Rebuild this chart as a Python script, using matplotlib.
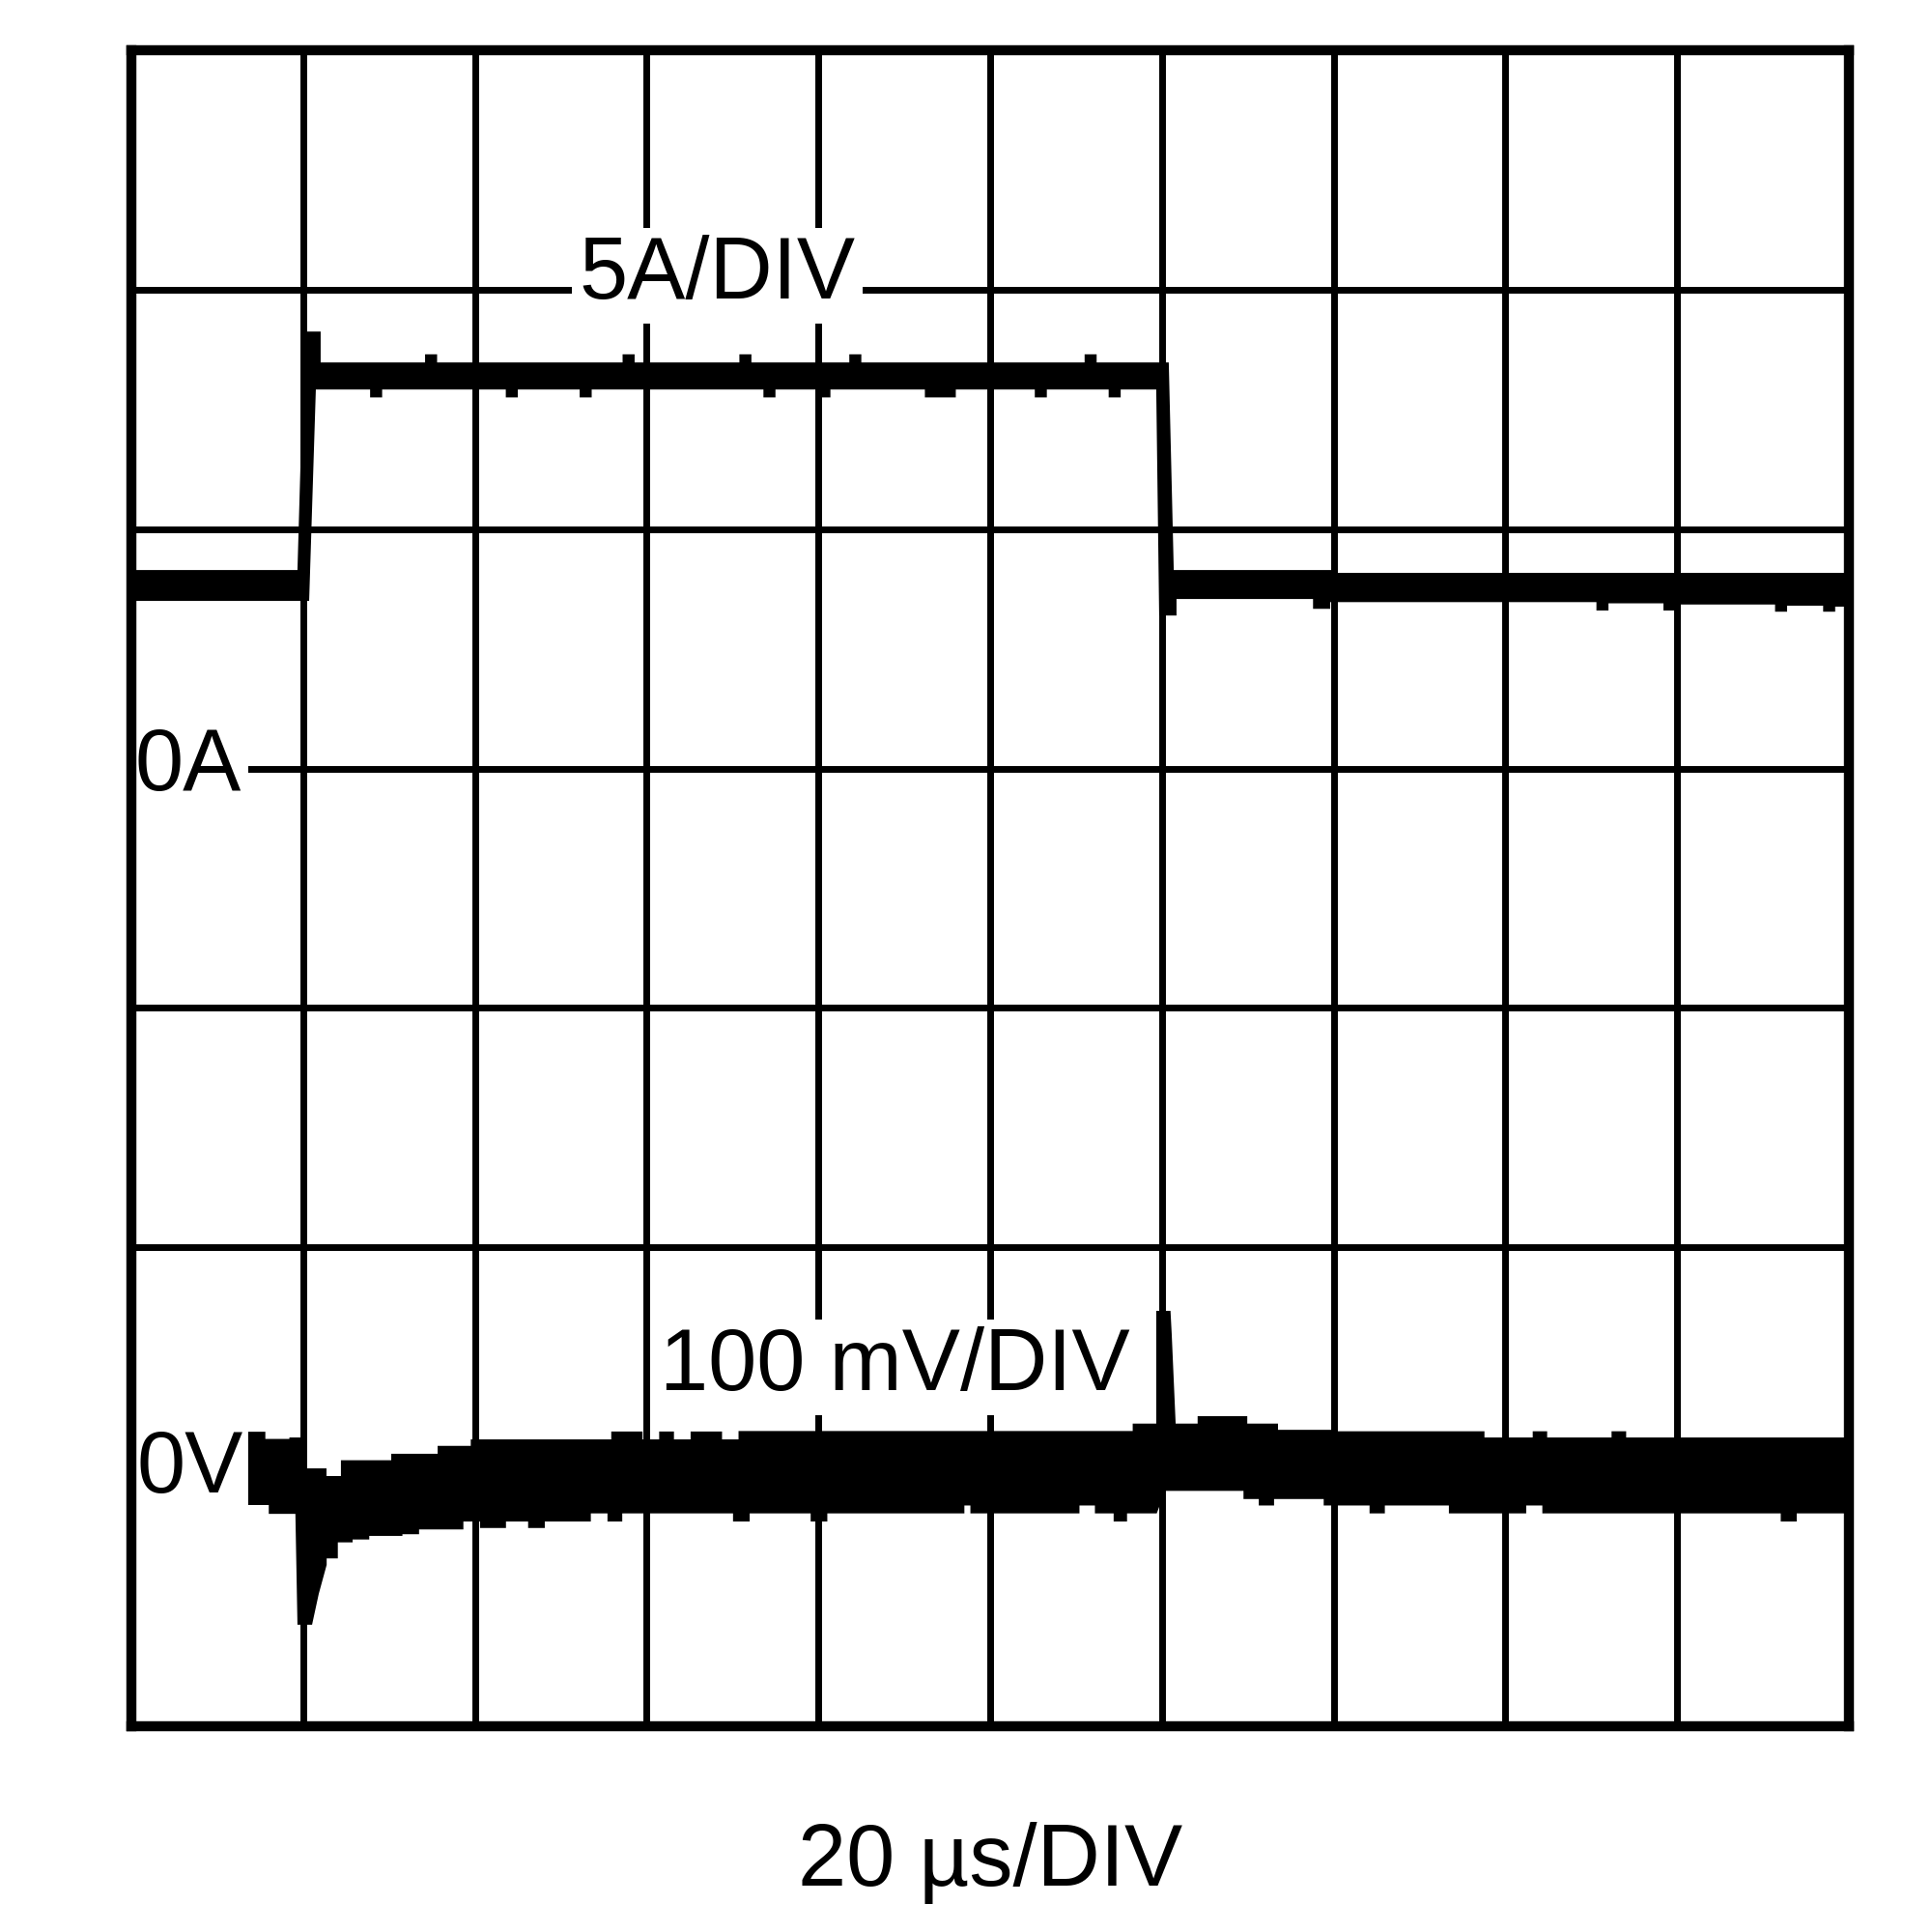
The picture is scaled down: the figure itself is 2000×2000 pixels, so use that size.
import matplotlib
matplotlib.use('Agg')
import matplotlib.pyplot as plt

plt.rcParams['font.family'] = ['Liberation Sans', 'DejaVu Sans']

# scope screen, 10 x 7 divisions
x_divs = 10
y_divs = 7

# load current (5 A/div, 0 A on division 4)
# each edge of the thick trace is a run of flat pieces: start, end, level (in divisions)
i_top_start = [0, 1.007, 1.102, 1.71, 1.78, 2.86, 2.93, 3.54, 3.61, 4.18, 4.25, 5.55, 5.62, 6.069, 7.0]
i_top_end = [0.967, 1.102, 1.71, 1.78, 2.86, 2.93, 3.54, 3.61, 4.18, 4.25, 5.55, 5.62, 6.040, 7.0, 10]
i_top_level = [4.829, 5.825, 5.696, 5.73, 5.696, 5.73, 5.696, 5.73, 5.696, 5.73, 5.696, 5.73, 5.696,
               4.829, 4.817]

i_bot_start = [0, 1.074, 1.39, 1.46, 2.18, 2.25, 2.61, 2.68, 3.68, 3.75, 4.0, 4.07, 4.62, 4.80,
               5.26, 5.33, 5.69, 5.76, 5.984, 6.085, 6.88, 6.98, 8.53, 8.60, 8.92, 8.99, 9.57, 9.64,
               9.85, 9.92]
i_bot_end = [1.035, 1.39, 1.46, 2.18, 2.25, 2.61, 2.68, 3.68, 3.75, 4.0, 4.07, 4.62, 4.80, 5.26,
             5.33, 5.69, 5.76, 5.967, 6.085, 6.88, 6.98, 8.53, 8.60, 8.92, 8.99, 9.57, 9.64, 9.85,
             9.92, 10]
i_bot_level = [4.70, 5.583, 5.55, 5.583, 5.55, 5.583, 5.55, 5.583, 5.55, 5.583, 5.55, 5.583, 5.55,
               5.583, 5.55, 5.583, 5.55, 5.583, 4.639, 4.708, 4.667, 4.695, 4.66, 4.69, 4.66, 4.685,
               4.655, 4.68, 4.655, 4.676]

# output voltage (100 mV/div, 0 V on division 1)
v_top_start = [0.68, 0.78, 0.92, 1.00, 1.136, 1.22, 1.513, 1.783, 1.976, 2.794, 2.976, 3.073,
               3.159, 3.256, 3.439, 3.535, 5.83, 5.967, 6.057, 6.08, 6.208, 6.497, 6.676, 7.009,
               7.878, 8.159, 8.243, 8.618, 8.703]
v_top_end = [0.78, 0.92, 1.00, 1.136, 1.22, 1.513, 1.783, 1.976, 2.794, 2.976, 3.073, 3.159,
             3.256, 3.439, 3.535, 5.83, 5.967, 6.05, 6.057, 6.208, 6.497, 6.676, 7.009, 7.878,
             8.159, 8.243, 8.618, 8.703, 10]
v_top_level = [1.23, 1.20, 1.206, 1.077, 1.045, 1.111, 1.138, 1.171, 1.198, 1.231, 1.198, 1.231,
               1.198, 1.231, 1.198, 1.233, 1.264, 1.735, 1.64, 1.264, 1.295, 1.264, 1.238, 1.232,
               1.206, 1.232, 1.206, 1.232, 1.206]

v_bot_start = [0.68, 0.80, 0.967, 1.091, 1.137, 1.137, 1.202, 1.288, 1.385, 1.578, 1.675, 1.933,
               2.030, 2.181, 2.310, 2.407, 2.675, 2.772, 2.858, 3.503, 3.600, 3.955, 4.052, 4.85,
               4.885, 5.52, 5.61, 5.719, 5.797, 6.019, 6.475, 6.564, 6.653, 6.942, 7.209, 7.298,
               7.671, 8.121, 8.215, 9.603, 9.696]
v_bot_end = [0.80, 0.955, 1.052, 1.091, 1.137, 1.202, 1.288, 1.385, 1.578, 1.675, 1.933, 2.030,
             2.181, 2.310, 2.407, 2.675, 2.772, 2.858, 3.503, 3.600, 3.955, 4.052, 4.85, 4.885,
             5.52, 5.61, 5.719, 5.797, 5.97, 6.475, 6.564, 6.653, 6.942, 7.209, 7.298, 7.671,
             8.121, 8.215, 9.603, 9.696, 10]
v_bot_level = [0.924, 0.887, 0.424, 0.553, 0.674, 0.701, 0.768, 0.78, 0.795, 0.802, 0.822, 0.855,
               0.828, 0.855, 0.828, 0.855, 0.889, 0.855, 0.889, 0.855, 0.889, 0.855, 0.889, 0.922,
               0.889, 0.922, 0.889, 0.855, 0.889, 0.983, 0.949, 0.922, 0.949, 0.922, 0.889, 0.922,
               0.889, 0.922, 0.889, 0.855, 0.889]

labels = ['5A/DIV', '0A', '0V', '100 mV/DIV']
label_x = [2.605, 0.02, 0.03, 3.075]
label_y = [5.962, 3.909, 0.976, 1.404]
time_label = '20 µs/DIV'


def edge(starts, ends, levels):
    xs, ys = [], []
    for a, b, lv in zip(starts, ends, levels):
        xs += [a, b]
        ys += [lv, lv]
    return xs, ys


fig = plt.figure(figsize=(20, 20), dpi=100)
ax = fig.add_axes([0.068, 0.1065, 0.889, 0.8675])

for top, bot in [((i_top_start, i_top_end, i_top_level), (i_bot_start, i_bot_end, i_bot_level)),
                 ((v_top_start, v_top_end, v_top_level), (v_bot_start, v_bot_end, v_bot_level))]:
    tx, ty = edge(*top)
    bx, by = edge(*bot)
    ax.fill(tx + bx[::-1], ty + by[::-1], color='black', lw=0, zorder=4)

for txt, tx, ty in zip(labels, label_x, label_y):
    ax.text(tx, ty, txt, fontsize=65, ha='left', va='baseline', zorder=3,
            bbox=dict(facecolor='white', edgecolor='none', boxstyle='square,pad=0.08'))

ax.text(x_divs / 2, -0.666, time_label, fontsize=65, ha='center', va='baseline', clip_on=False)

ax.set_xlim(0, x_divs)
ax.set_ylim(0, y_divs)
ax.set_xticks(range(x_divs + 1))
ax.set_yticks(range(y_divs + 1))
ax.tick_params(length=0, labelbottom=False, labelleft=False)
ax.grid(True, color='black', linewidth=5)
ax.set_axisbelow(True)
for sp in ax.spines.values():
    sp.set_linewidth(7.5)
    sp.set_zorder(5)

fig.savefig('out.png', dpi=100)
